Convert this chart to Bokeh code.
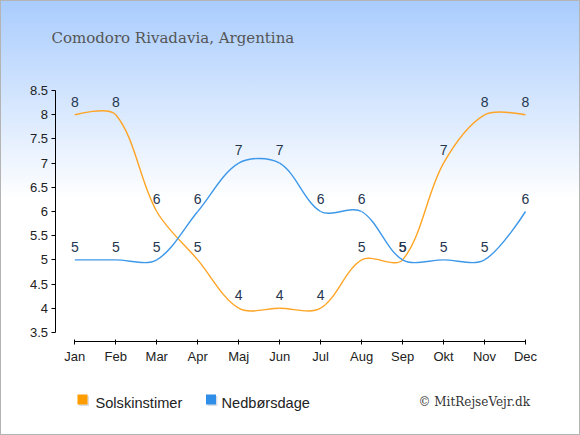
import math
from bokeh.plotting import figure
from bokeh.models import Range1d, FixedTicker, Label, BoxAnnotation, ColumnDataSource
from bokeh.core.properties import value
from bokeh.embed import file_html
from bokeh.resources import INLINE

# ---- data ----
months = ["Jan", "Feb", "Mar", "Apr", "Maj", "Jun", "Jul", "Aug", "Sep", "Okt", "Nov", "Dec"]
sun_hours = [8, 8, 6, 5, 4, 4, 4, 5, 5, 7, 8, 8]
rain_days = [5, 5, 5, 6, 7, 7, 6, 6, 5, 5, 5, 6]
y_ticks = [3.5, 4, 4.5, 5, 5.5, 6, 6.5, 7, 7.5, 8, 8.5]
series_names = ["Solskinstimer", "Nedbørsdage"]
title_text = "Comodoro Rivadavia, Argentina"
credit_text = "\u00a9 MitRejseVejr.dk"

# ---- layout (pixels from the top-left of the figure) ----
W, H = 580, 435
X_FIRST_PX, X_LAST_PX = 74.3, 525.0
Y_TOP_PX, Y_BOT_PX = 90.1, 331.9
YAXIS_PX = 54.5
XAXIS_PX = 341.0
n = len(months)
px_x = (X_LAST_PX - X_FIRST_PX) / (n - 1)
px_y = (Y_BOT_PX - Y_TOP_PX) / (y_ticks[-1] - y_ticks[0])
x_start = -X_FIRST_PX / px_x
x_end = (n - 1) + (W - X_LAST_PX) / px_x
y_end = y_ticks[-1] + Y_TOP_PX / px_y
y_start = y_ticks[0] - (H - Y_BOT_PX) / px_y

ORANGE = "#ff9c00"
BLUE = "#2f8fe8"
ORANGE_LINE = "#ffa424"
BLUE_LINE = "#3d98ea"
LABEL_COLOR = "#253650"

p = figure(width=W, height=H,
           x_range=Range1d(x_start, x_end), y_range=Range1d(y_start, y_end),
           output_backend="svg", toolbar_location=None,
           min_border=0, min_border_left=0, min_border_right=0,
           min_border_top=0, min_border_bottom=0)
p.styles = {"background": "linear-gradient(to bottom, #a9ccfd 0px, #ffffff 200px, #ffffff 100%)",
            "box-shadow": "inset 0 0 0 1px #b4b4b4"}
p.border_fill_alpha = 0
p.background_fill_alpha = 0
p.outline_line_color = None
p.grid.visible = False

# axes (drawn at fixed positions inside the frame)
p.xaxis.fixed_location = y_ticks[0] - (XAXIS_PX - Y_BOT_PX) / px_y
p.yaxis.fixed_location = (YAXIS_PX - X_FIRST_PX) / px_x
p.xaxis.ticker = FixedTicker(ticks=list(range(n)))
p.xaxis.major_label_overrides = {i: m for i, m in enumerate(months)}
p.xaxis.bounds = (0, n - 1)
p.xaxis.major_tick_in = 2
p.xaxis.major_tick_out = 3
p.xaxis.major_label_standoff = 4
p.yaxis.ticker = FixedTicker(ticks=y_ticks)
p.yaxis.major_label_overrides = {t: f"{t:g}" for t in y_ticks}
p.yaxis.bounds = (y_ticks[0], y_ticks[-1])
p.yaxis.major_tick_in = 0
p.yaxis.major_tick_out = 4
p.yaxis.major_label_standoff = 3
for ax in (p.xaxis, p.yaxis):
    ax.minor_tick_line_color = None
    ax.axis_line_color = "#000000"
    ax.major_tick_line_color = "#000000"
    ax.major_label_text_font = "Liberation Sans"
    ax.major_label_text_font_size = "13px"
    ax.major_label_text_color = "#222222"

TENSION = 0.33


def bezier_source(vals):
    xs = list(range(len(vals)))
    prev_cp = []
    next_cp = []
    for i in range(len(vals)):
        cx, cy = xs[i], vals[i]
        if i == 0 or i == len(vals) - 1:
            prev_cp.append((cx, cy))
            next_cp.append((cx, cy))
            continue
        ax_, ay_ = xs[i - 1], vals[i - 1]
        bx_, by_ = xs[i + 1], vals[i + 1]
        d01 = math.hypot((cx - ax_) * px_x, (cy - ay_) * px_y)
        d12 = math.hypot((bx_ - cx) * px_x, (by_ - cy) * px_y)
        s01 = d01 / (d01 + d12)
        s12 = d12 / (d01 + d12)
        fa, fb = TENSION * s01, TENSION * s12
        prev_cp.append((cx - fa * (bx_ - ax_), cy - fa * (by_ - ay_)))
        next_cp.append((cx + fb * (bx_ - ax_), cy + fb * (by_ - ay_)))
    data = dict(x0=xs[:-1], y0=vals[:-1], x1=xs[1:], y1=vals[1:],
                cx0=[c[0] for c in next_cp[:-1]], cy0=[c[1] for c in next_cp[:-1]],
                cx1=[c[0] for c in prev_cp[1:]], cy1=[c[1] for c in prev_cp[1:]])
    return ColumnDataSource(data)


for vals, col in ((sun_hours, ORANGE_LINE), (rain_days, BLUE_LINE)):
    p.bezier(x0="x0", y0="y0", x1="x1", y1="y1", cx0="cx0", cy0="cy0",
             cx1="cx1", cy1="cy1", source=bezier_source(vals),
             line_color=col, line_width=1.4)

for vals in (sun_hours, rain_days):
    p.text(x=list(range(n)), y=vals, text=[f"{v:g}" for v in vals],
           text_font=value("Liberation Sans"), text_font_size="14px",
           text_color=LABEL_COLOR, text_align="center",
           text_baseline="middle", y_offset=-13)

# legend: swatches with a soft shadow, then labels (screen units, y up from bottom)
legend_entries = [(series_names[0], ORANGE, 77.0, 95.0),
                  (series_names[1], BLUE, 205.5, 221.0)]
SW_TOP, SW_SIZE = 394.0, 10.0
for name, col, left, text_x in legend_entries:
    p.add_layout(BoxAnnotation(left=left + 1.5, right=left + SW_SIZE + 1.5,
                               top=H - SW_TOP - 1.5, bottom=H - SW_TOP - SW_SIZE - 1.5,
                               left_units="screen", right_units="screen",
                               top_units="screen", bottom_units="screen",
                               fill_color="#9aa4b4", fill_alpha=0.35, line_color=None,
                               level="overlay"))
    p.add_layout(BoxAnnotation(left=left, right=left + SW_SIZE,
                               top=H - SW_TOP, bottom=H - SW_TOP - SW_SIZE,
                               left_units="screen", right_units="screen",
                               top_units="screen", bottom_units="screen",
                               fill_color=col, fill_alpha=1.0, line_color=None,
                               level="overlay"))
    p.add_layout(Label(x=text_x, y=H - 402.7, x_units="screen", y_units="screen",
                       text=name, text_font="Liberation Sans", text_font_size="14.6px",
                       text_color="#222222", text_baseline="alphabetic"))

p.add_layout(Label(x=51, y=H - 37.3, x_units="screen", y_units="screen",
                   text=title_text, text_font="DejaVu Serif", text_font_size="15px",
                   text_color="#555555", text_baseline="alphabetic"))
p.add_layout(Label(x=418, y=H - 401.7, x_units="screen", y_units="screen",
                   text=credit_text, text_font="DejaVu Serif", text_font_size="12px",
                   text_color="#333333", text_baseline="alphabetic"))

open("out.html", "w").write(file_html(p, INLINE))
